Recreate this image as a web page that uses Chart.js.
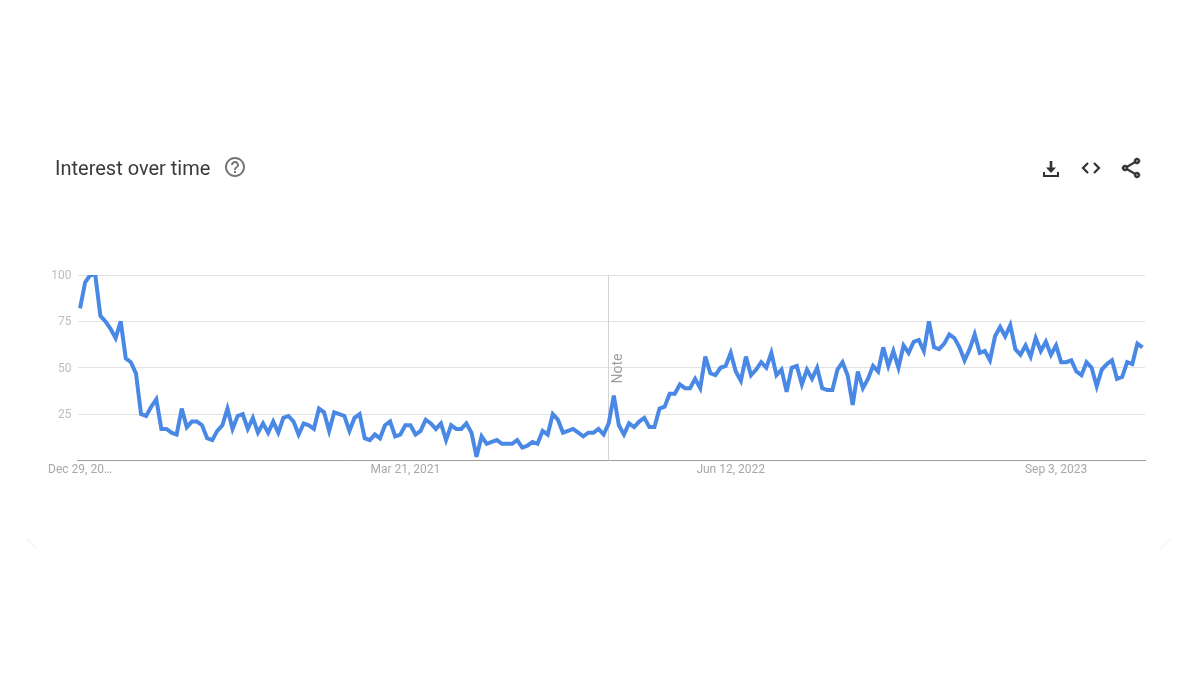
<!DOCTYPE html>
<html>
<head>
<meta charset="utf-8">
<title>Interest over time</title>
<script src="https://cdn.jsdelivr.net/npm/chart.js@4"></script>
<style>
    html, body { margin: 0; padding: 0; background: #fff; overflow: hidden; }
    #wrap { position: relative; width: 1200px; height: 673px; }
    #grafico { position: absolute; left: 0; top: 0; }
    #titulo { position: absolute; left: 55px; top: 156px; font: 20px/24px Roboto, sans-serif; color: #3a3a3a; }
    .icone { position: absolute; width: 24px; height: 24px; fill: #333; }
    .canto { position: absolute; width: 11px; height: 11px; }
</style>
</head>
<body>
<div id="wrap">
    <canvas id="grafico" width="1200" height="673"></canvas>
    <div id="titulo">Interest over time</div>
    <svg class="icone" style="left:223px;top:155px;fill:#757575" viewBox="0 0 24 24"><path d="M11 18h2v-2h-2v2zm1-16C6.48 2 2 6.48 2 12s4.48 10 10 10 10-4.48 10-10S17.52 2 12 2zm0 18c-4.41 0-8-3.59-8-8s3.59-8 8-8 8 3.59 8 8-3.59 8-8 8zm0-14c-2.21 0-4 1.79-4 4h2c0-1.1.9-2 2-2s2 .9 2 2c0 2-3 1.75-3 5h2c0-2.25 3-2.5 3-5 0-2.21-1.79-4-4-4z"/></svg>
    <svg class="icone" style="left:1039px;top:157px" viewBox="0 0 24 24"><path d="M10.7 4h2.6v6.5h3.7L12 16l-5-5.5h3.7z"/><path d="M4 15h2v3h12v-3h2v5H4z"/></svg>
    <svg class="icone" style="left:1079px;top:156px;fill:none;stroke:#333;stroke-width:2.2" viewBox="0 0 24 24"><path d="M9 7l-5 5 5 5"/><path d="M15 7l5 5-5 5"/></svg>
    <svg class="icone" style="left:1119px;top:156px;stroke:#333;stroke-width:.6" viewBox="0 0 24 24"><path d="M18 16.08c-.76 0-1.44.3-1.96.77L8.91 12.7c.05-.23.09-.46.09-.7s-.04-.47-.09-.7l7.05-4.11c.54.5 1.25.81 2.04.81 1.66 0 3-1.34 3-3s-1.34-3-3-3-3 1.34-3 3c0 .24.04.47.09.7L8.04 9.81C7.5 9.31 6.79 9 6 9c-1.66 0-3 1.34-3 3s1.34 3 3 3c.79 0 1.5-.31 2.04-.81l7.12 4.16c-.05.21-.08.43-.08.65 0 1.61 1.31 2.92 2.92 2.92 1.61 0 2.92-1.31 2.92-2.92s-1.31-2.92-2.92-2.92zM18 4c.55 0 1 .45 1 1s-.45 1-1 1-1-.45-1-1 .45-1 1-1zM6 13c-.55 0-1-.45-1-1s.45-1 1-1 1 .45 1 1-.45 1-1 1zm12 7.02c-.55 0-1-.45-1-1s.45-1 1-1 1 .45 1 1-.45 1-1 1z"/></svg>
    <div class="canto" style="left:26px;top:538px;background:linear-gradient(45deg,#fff 38%,#f6f6f6 50%,#fff 62%)"></div>
    <div class="canto" style="left:1160px;top:538px;background:linear-gradient(-45deg,#fff 38%,#f8f8f8 50%,#fff 62%)"></div>
</div>

<script>
// interesse semanal (0 a 100)
const interesse = [
    82, 96, 100, 100, 78, 75, 71, 66, 75, 55, 53, 47, 25, 24, 29, 33, 17, 17, 15, 14,
    28, 18, 21, 21, 19, 12, 11, 16, 19, 28, 17, 24, 25, 17, 23, 15, 20, 15, 21, 15,
    23, 24, 21, 14, 20, 19, 17, 28, 26, 16, 26, 25, 24, 16, 23, 25, 12, 11, 14, 12,
    19, 21, 13, 14, 19, 19, 14, 16, 22, 20, 17, 20, 11, 19, 17, 17, 20, 15, 2, 13,
    9, 10, 11, 9, 9, 9, 11, 7, 8, 10, 9, 16, 14, 25, 22, 15, 16, 17, 15, 13,
    15, 15, 17, 14, 20, 35, 19, 14, 20, 18, 21, 23, 18, 18, 28, 29, 36, 36, 41, 39,
    39, 44, 39, 56, 47, 46, 50, 51, 58, 48, 43, 56, 46, 49, 53, 50, 58, 46, 49, 37,
    50, 51, 41, 49, 44, 50, 39, 38, 38, 49, 53, 46, 30, 48, 39, 44, 51, 48, 61, 51,
    59, 50, 62, 58, 64, 65, 59, 75, 61, 60, 63, 68, 66, 61, 54, 60, 68, 58, 59, 54,
    67, 72, 67, 73, 60, 57, 62, 56, 66, 59, 64, 57, 62, 53, 53, 54, 48, 46, 53, 50,
    40, 49, 52, 54, 44, 45, 53, 52, 63, 61
];
const semanas = interesse.map((v, i) => i);

// semanas que levam rotulo no eixo x
const semanasTick = [0, 64, 128, 192];
const rotulosTick = ['Dec 29, 20…', 'Mar 21, 2021', 'Jun 12, 2022', 'Sep 3, 2023'];
const ticksY = [25, 50, 75, 100];

const semanaNota = 104;
const textoNota = 'Note';

// linha vertical da nota e o texto girado
const notaPlugin = {
    id: 'nota',
    beforeDatasetsDraw(chart) {
        const ctx = chart.ctx;
        const x = Math.floor(chart.scales.x.getPixelForValue(semanaNota)) + 0.5;
        ctx.save();
        ctx.strokeStyle = '#d4d4d4';
        ctx.lineWidth = 1;
        ctx.beginPath();
        ctx.moveTo(x, chart.chartArea.top);
        ctx.lineTo(x, chart.chartArea.bottom);
        ctx.stroke();
        ctx.translate(x + 10, chart.scales.y.getPixelForValue(41.5));
        ctx.rotate(-Math.PI / 2);
        ctx.fillStyle = '#9e9e9e';
        ctx.font = '14px Roboto';
        ctx.textAlign = 'left';
        ctx.textBaseline = 'middle';
        ctx.fillText(textoNota, 0, 0);
        ctx.restore();
        ctx.miterLimit = 4; // picos agudos cortados, como no original
    }
};

new Chart(document.getElementById('grafico').getContext('2d'), {
    type: 'line',
    plugins: [notaPlugin],
    data: {
        labels: semanas,
        datasets: [{
            label: 'Interest',
            data: interesse,
            borderColor: '#4a88e6',
            borderWidth: 4,
            pointRadius: 0,
            tension: 0,
            fill: false,
            clip: 0
        }]
    },
    options: {
        responsive: false,
        animation: false,
        layout: { padding: { top: 275, right: 55, left: 0, bottom: 0 } },
        plugins: { legend: { display: false }, tooltip: { enabled: false } },
        scales: {
            x: {
                type: 'category',
                offset: true,
                afterFit: scale => { scale.height = 212.5; },
                afterBuildTicks: scale => { scale.ticks = semanasTick.map(v => ({ value: v })); },
                grid: { display: false, tickLength: 0 },
                border: { color: '#9e9e9e', width: 1 },
                ticks: {
                    autoSkip: false,
                    minRotation: 0,
                    maxRotation: 0,
                    padding: 2,
                    color: '#a8a8a8',
                    font: { family: 'Roboto', size: 12 },
                    callback: value => rotulosTick[semanasTick.indexOf(value)]
                }
            },
            y: {
                min: 0,
                max: 100,
                afterFit: scale => { scale.width = 77.5; },
                afterBuildTicks: scale => { scale.ticks = [0, ...ticksY].map(v => ({ value: v })); },
                border: { display: false },
                grid: { color: '#e2e2e2', drawTicks: false },
                ticks: {
                    padding: 6,
                    labelOffset: 1,
                    color: '#bdbdbd',
                    font: { family: 'Roboto', size: 12 },
                    callback: value => (value === 0 ? '' : value)
                }
            }
        }
    }
});
</script>
</body>
</html>
